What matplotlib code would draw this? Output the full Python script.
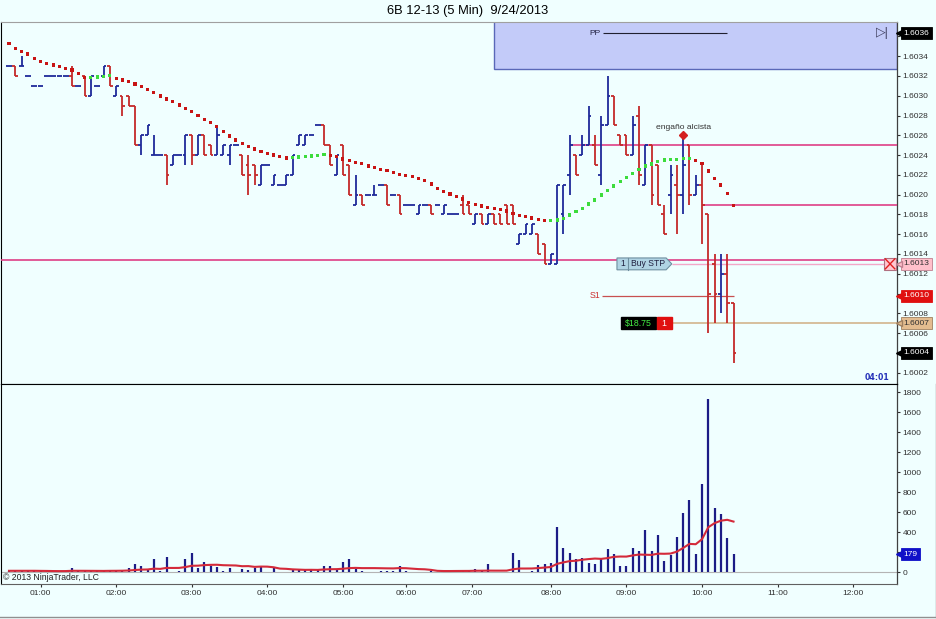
import numpy as np
import pandas as pd
import matplotlib
matplotlib.use("Agg")
import matplotlib.pyplot as plt
import matplotlib.transforms as mtransforms
from matplotlib.patches import Rectangle, Polygon
from matplotlib.lines import Line2D

plt.rcParams['font.family'] = ['Liberation Sans', 'DejaVu Sans']

title = "6B 12-13 (5 Min)  9/24/2013"

# 5 min bars 00:35 .. 10:25, one row per hour
opens = [1.6033, 1.6033, 1.6033, 1.6032, 1.6031, 1.6031, 1.6032, 1.6032, 1.6032, 1.6032, 1.6032, 1.6031,
         1.6032, 1.6030, 1.6031, 1.6032, 1.6033, 1.6030, 1.6030, 1.6030, 1.6029, 1.6025, 1.6026, 1.6024,
         1.6024, 1.6024, 1.6023, 1.6024, 1.6024, 1.6026, 1.6024, 1.6026, 1.6025, 1.6024, 1.6024, 1.6024,
         1.6025, 1.6024, 1.6023, 1.6023, 1.6021, 1.6023, 1.6021, 1.6021, 1.6021, 1.6022, 1.6025, 1.6025,
         1.6026, 1.6027, 1.6027, 1.6025, 1.6022, 1.6025, 1.6023, 1.6019, 1.6020, 1.6020, 1.6020, 1.6021,
         1.6021, 1.6020, 1.6020, 1.6019, 1.6019, 1.6018, 1.6019, 1.6019, 1.6019, 1.6018, 1.6018, 1.6018,
         1.6019, 1.6019, 1.6017, 1.6018, 1.6017, 1.6018, 1.6018, 1.6019, 1.6019, 1.6015, 1.6016, 1.6016,
         1.6016, 1.6015, 1.6013, 1.6013, 1.6018, 1.6022, 1.6024, 1.6024, 1.6025, 1.6025, 1.6022, 1.6027,
         1.6030, 1.6026, 1.6026, 1.6024, 1.6028, 1.6021, 1.6025, 1.6023, 1.6018, 1.6020, 1.6021, 1.6020,
         1.6025, 1.6020, 1.6021, 1.6018, 1.6013, 1.6010, 1.6012, 1.6009]
highs = [1.6033, 1.6033, 1.6034, 1.6032, 1.6031, 1.6031, 1.6032, 1.6032, 1.6032, 1.6032, 1.6033, 1.6031,
         1.6032, 1.6032, 1.6031, 1.6033, 1.6033, 1.6031, 1.6030, 1.6030, 1.6029, 1.6026, 1.6027, 1.6026,
         1.6024, 1.6024, 1.6024, 1.6024, 1.6026, 1.6026, 1.6026, 1.6026, 1.6025, 1.6027, 1.6025, 1.6025,
         1.6025, 1.6024, 1.6024, 1.6023, 1.6023, 1.6023, 1.6022, 1.6021, 1.6022, 1.6024, 1.6026, 1.6026,
         1.6026, 1.6027, 1.6027, 1.6025, 1.6024, 1.6025, 1.6023, 1.6022, 1.6020, 1.6020, 1.6021, 1.6021,
         1.6021, 1.6020, 1.6020, 1.6019, 1.6019, 1.6019, 1.6019, 1.6019, 1.6019, 1.6019, 1.6018, 1.6018,
         1.6020, 1.6019, 1.6018, 1.6018, 1.6018, 1.6018, 1.6018, 1.6019, 1.6019, 1.6016, 1.6017, 1.6017,
         1.6016, 1.6015, 1.6014, 1.6021, 1.6021, 1.6026, 1.6024, 1.6026, 1.6029, 1.6026, 1.6028, 1.6032,
         1.6030, 1.6026, 1.6026, 1.6028, 1.6029, 1.6025, 1.6025, 1.6023, 1.6019, 1.6023, 1.6023, 1.6026,
         1.6025, 1.6022, 1.6023, 1.6018, 1.6014, 1.6014, 1.6014, 1.6009]
lows = [1.6033, 1.6032, 1.6033, 1.6032, 1.6031, 1.6031, 1.6032, 1.6032, 1.6032, 1.6032, 1.6031, 1.6031,
        1.6030, 1.6030, 1.6031, 1.6032, 1.6031, 1.6030, 1.6028, 1.6029, 1.6025, 1.6024, 1.6026, 1.6024,
        1.6024, 1.6021, 1.6023, 1.6024, 1.6023, 1.6023, 1.6024, 1.6024, 1.6024, 1.6024, 1.6024, 1.6023,
        1.6025, 1.6022, 1.6020, 1.6021, 1.6021, 1.6023, 1.6021, 1.6021, 1.6021, 1.6022, 1.6025, 1.6025,
        1.6026, 1.6027, 1.6025, 1.6023, 1.6022, 1.6022, 1.6020, 1.6019, 1.6019, 1.6020, 1.6020, 1.6021,
        1.6019, 1.6020, 1.6018, 1.6019, 1.6019, 1.6018, 1.6019, 1.6018, 1.6019, 1.6018, 1.6018, 1.6018,
        1.6018, 1.6018, 1.6017, 1.6017, 1.6017, 1.6017, 1.6017, 1.6017, 1.6017, 1.6015, 1.6016, 1.6016,
        1.6014, 1.6013, 1.6013, 1.6013, 1.6016, 1.6020, 1.6022, 1.6024, 1.6025, 1.6023, 1.6021, 1.6027,
        1.6027, 1.6025, 1.6024, 1.6024, 1.6021, 1.6021, 1.6019, 1.6019, 1.6016, 1.6018, 1.6016, 1.6018,
        1.6019, 1.6020, 1.6015, 1.6006, 1.6007, 1.6008, 1.6007, 1.6003]
closes = [1.6033, 1.6032, 1.6033, 1.6032, 1.6031, 1.6031, 1.6032, 1.6032, 1.6032, 1.6032, 1.6031, 1.6031,
          1.6030, 1.6032, 1.6031, 1.6033, 1.6031, 1.6031, 1.6029, 1.6029, 1.6025, 1.6026, 1.6027, 1.6024,
          1.6024, 1.6022, 1.6024, 1.6024, 1.6026, 1.6024, 1.6026, 1.6024, 1.6024, 1.6026, 1.6025, 1.6025,
          1.6025, 1.6022, 1.6022, 1.6022, 1.6023, 1.6023, 1.6022, 1.6021, 1.6022, 1.6024, 1.6026, 1.6026,
          1.6026, 1.6027, 1.6025, 1.6023, 1.6024, 1.6022, 1.6020, 1.6020, 1.6019, 1.6020, 1.6020, 1.6021,
          1.6019, 1.6020, 1.6018, 1.6019, 1.6019, 1.6019, 1.6019, 1.6018, 1.6019, 1.6019, 1.6018, 1.6018,
          1.6018, 1.6018, 1.6018, 1.6017, 1.6018, 1.6017, 1.6017, 1.6017, 1.6017, 1.6016, 1.6017, 1.6017,
          1.6014, 1.6013, 1.6014, 1.6021, 1.6021, 1.6025, 1.6022, 1.6025, 1.6028, 1.6023, 1.6027, 1.6030,
          1.6027, 1.6025, 1.6024, 1.6027, 1.6022, 1.6025, 1.6020, 1.6019, 1.6016, 1.6022, 1.6020, 1.6023,
          1.6020, 1.6021, 1.6019, 1.6010, 1.6010, 1.6012, 1.6009, 1.6004]

# dotted trend average, read per bar
ma_dots = [1.603530, 1.603480, 1.603446, 1.603422, 1.603378, 1.603345, 1.603328, 1.603311, 1.603294, 1.603277, 1.603260, 1.603227,
           1.603183, 1.603186, 1.603190, 1.603196, 1.603203, 1.603176, 1.603159, 1.603142, 1.603119, 1.603092, 1.603065, 1.603031,
           1.602998, 1.602967, 1.602940, 1.602907, 1.602873, 1.602839, 1.602799, 1.602762, 1.602728, 1.602687, 1.602637, 1.602593,
           1.602553, 1.602519, 1.602485, 1.602462, 1.602438, 1.602418, 1.602401, 1.602384, 1.602371, 1.602374, 1.602381, 1.602384,
           1.602391, 1.602398, 1.602404, 1.602400, 1.602384, 1.602361, 1.602343, 1.602327, 1.602317, 1.602290, 1.602277, 1.602256,
           1.602242, 1.602222, 1.602206, 1.602192, 1.602182, 1.602165, 1.602141, 1.602108, 1.602064, 1.602030, 1.602007, 1.601979,
           1.601956, 1.601919, 1.601898, 1.601885, 1.601872, 1.601858, 1.601848, 1.601835, 1.601812, 1.601791, 1.601777, 1.601764,
           1.601751, 1.601737, 1.601741, 1.601744, 1.601761, 1.601794, 1.601828, 1.601862, 1.601906, 1.601946, 1.601997, 1.602040,
           1.602088, 1.602131, 1.602176, 1.602216, 1.602256, 1.602290, 1.602310, 1.602333, 1.602350, 1.602353, 1.602358, 1.602364,
           1.602368, 1.602343, 1.602317, 1.602239, 1.602165, 1.602098, 1.602014, 1.601888]

volume = [15, 15, 15, 15, 15, 10, 10, 5, 8, 15, 43, 15,
          12, 10, 10, 10, 27, 20, 27, 40, 80, 60, 27, 130,
          10, 150, 8, 15, 130, 190, 40, 100, 63, 53, 17, 40,
          8, 30, 23, 43, 50, 5, 43, 5, 5, 27, 27, 20,
          23, 27, 67, 67, 33, 100, 137, 37, 10, 5, 5, 12,
          10, 12, 67, 10, 5, 5, 5, 17, 5, 10, 10, 12,
          10, 15, 35, 17, 80, 5, 5, 8, 190, 127, 5, 15,
          70, 80, 90, 457, 240, 197, 130, 147, 93, 83, 147, 233,
          180, 60, 63, 240, 217, 427, 217, 373, 113, 177, 357, 597,
          723, 187, 883, 1733, 643, 580, 340, 179]

time_ticks = [5, 17, 29, 41, 53, 63, 73.5, 86, 98, 110, 122, 134]
time_labels = ['01:00', '02:00', '03:00', '04:00', '05:00', '06:00',
               '07:00', '08:00', '09:00', '10:00', '11:00', '12:00']
price_ticks = [1.6002 + 0.0002 * i for i in range(18)]
vol_ticks = list(range(0, 1801, 200))

pp_level = 1.60363
pp_zone_low = 1.60327
s1_level = 1.60098
stop_level = 1.6013
entry_level = 1.6007
last_price = 1.6004
line_full = 1.60134
line_high = 1.6025
line_mid = 1.6019
fake_high = 1.6026   # "engaño alcista" marker
last_vol = 179

BG = '#F0FFFF'
UP = '#1F2A9A'
DN = '#C42A2A'
MAG = '#DE3F86'

W, H = 937, 619
def rect(l, t, r, b):
    return [l / W, 1 - b / H, (r - l) / W, (b - t) / H]

fig = plt.figure(figsize=(9.37, 6.19), dpi=100, facecolor=BG)
ax = fig.add_axes(rect(1, 22, 897, 384), facecolor=BG)
ax2 = fig.add_axes(rect(1, 384, 897, 584), facecolor=BG, sharex=ax)

x = np.arange(len(closes))
o = np.array(opens); h = np.array(highs); l = np.array(lows); c = np.array(closes)
col = np.where(c >= o, UP, DN)

# price bars (OHLC)
ax.vlines(x, l, h, colors=col, lw=1.3, zorder=4)
ax.hlines(o, x - 0.45, x, colors=col, lw=1.3, zorder=4)
ax.hlines(c, x, x + 0.45, colors=col, lw=1.3, zorder=4)

ma = np.array(ma_dots)
rising = np.r_[False, np.diff(ma) > 0]
ax.scatter(x, ma, s=5, marker='s', c=np.where(rising, '#3CDC3C', '#C81414'),
           linewidths=0, zorder=5)

xmax = 140.95
# pivot zone
ax.add_patch(Rectangle((77, pp_zone_low), xmax - 77, 0.001, fc='#C3CBF9',
                       ec='#5A68B8', lw=1, zorder=1))
ax.hlines(pp_level, 94.3, 114, color='#202030', lw=0.8, zorder=2)
ax.text(93.9, pp_level, 'PP', ha='right', va='center', fontsize=6, color='#202040')
ax.text(138.7, pp_level, '▷|', ha='center', va='center', fontsize=9, color='#404060')

ax.axhline(line_full, color=MAG, lw=1.2, zorder=3)
ax.hlines(line_high, 89, xmax, color=MAG, lw=1.2, zorder=3)
ax.hlines(line_mid, 110, xmax, color=MAG, lw=1.2, zorder=3)
ax.hlines(stop_level, 105.2, 138.9, color='#F2A8C8', lw=1, zorder=3)
ax.hlines(s1_level, 94.2, 115, color='#C85050', lw=0.9, zorder=3)
ax.text(93.9, s1_level, 'S1', ha='right', va='center', fontsize=6.3, color='#CC3030')
ax.hlines(entry_level, 105.2, xmax, color='#D2B48C', lw=1.2, zorder=3)

ax.plot(107, fake_high, marker='D', ms=4.5, color='#D42020', zorder=7)
ax.text(107, 1.602674, 'engaño alcista', ha='center', va='center', fontsize=6.1, color='#333333')

# order tag
dh = 0.00006
ax.add_patch(Polygon([[96.5, stop_level - dh], [104.3, stop_level - dh], [105.2, stop_level],
                      [104.3, stop_level + dh], [96.5, stop_level + dh]], closed=True,
                     fc='#B0D4E4', ec='#6E8FA0', lw=0.8, zorder=8))
ax.plot([98.3, 98.3], [stop_level - dh, stop_level + dh], color='#6E8FA0', lw=0.8, zorder=9)
ax.text(97.4, stop_level, '1', ha='center', va='center', fontsize=6.2, color='#202040', zorder=9)
ax.text(98.8, stop_level, 'Buy STP', ha='left', va='center', fontsize=6.2, color='#202040', zorder=9)

# position tag
ax.add_patch(Rectangle((97.1, entry_level - dh), 5.6, 2 * dh, fc='black', ec='black', zorder=8))
ax.text(99.9, entry_level, '$18.75', ha='center', va='center', fontsize=6.3, color='#44EE44', zorder=9)
ax.add_patch(Rectangle((102.8, entry_level - dh), 2.4, 2 * dh, fc='#E01010', ec='#E01010', zorder=8))
ax.text(104.0, entry_level, '1', ha='center', va='center', fontsize=6.3, color='white', zorder=9)

# cancel box
ax.add_patch(Rectangle((138.9, stop_level - dh), 1.9, 2 * dh, fc='#FFC8D2', ec='#B07080', lw=0.8, zorder=8))
ax.plot([139.1, 140.6], [stop_level - 0.00005, stop_level + 0.00005], color='#E02020', lw=1, zorder=9)
ax.plot([139.1, 140.6], [stop_level + 0.00005, stop_level - 0.00005], color='#E02020', lw=1, zorder=9)

ax.text(137.8, 1.600156, '04:01', ha='center', va='center', fontsize=5.6,
        fontweight='bold', color='#2430B8', family='DejaVu Sans')

# volume panel
vol = np.array(volume)
ax2.axhline(0, color='#B4B4B4', lw=0.8, zorder=0)
ax2.vlines(x, 0, vol, colors='#1C1C86', lw=1.6, zorder=3)
vma = pd.Series(vol).rolling(14, min_periods=1).mean()
ax2.plot(x, vma, color='#D42A3A', lw=1.5, zorder=4)
tr2 = mtransforms.blended_transform_factory(ax2.transAxes, ax2.transData)
ax2.text(0.002, -57, '© 2013 NinjaTrader, LLC', transform=tr2, ha='left', va='center',
         fontsize=6.2, color='#202020')

ax.set_xlim(-1.27, xmax)
ax.set_ylim(1.6000855, 1.6037458)
ax2.set_ylim(-117, 1883)

# labels that sit under a price tag are hidden, as in the platform
hidden = {'1.6036', '1.6010', '1.6004'}
ax.yaxis.tick_right()
ax.set_yticks(price_ticks)
ax.set_yticklabels(['' if f'{v:.4f}' in hidden else f'{v:.4f}' for v in price_ticks])
ax.tick_params(axis='y', direction='out', length=2.5, width=0.8, labelsize=6, pad=1.5,
               colors='#303030')
ax.tick_params(axis='x', bottom=False, labelbottom=False)
ax2.yaxis.tick_right()
ax2.set_yticks(vol_ticks)
ax2.set_yticklabels(['' if v == 200 else str(v) for v in vol_ticks])
ax2.tick_params(axis='y', direction='out', length=2.5, width=0.8, labelsize=6, pad=1.5,
                colors='#303030')
ax2.set_xticks(time_ticks)
ax2.set_xticklabels(time_labels)
ax2.tick_params(axis='x', direction='out', length=2.5, width=0.8, labelsize=6, pad=2,
                colors='#303030')

for a in (ax, ax2):
    a.spines['left'].set_color('black')
    a.spines['right'].set_color('#404040')
    a.spines['right'].set_linewidth(0.9)
ax.spines['top'].set_color('#A0A0A0')
ax.spines['top'].set_linewidth(0.8)
ax.spines['bottom'].set_color('black')
ax2.spines['top'].set_color('black')
ax2.spines['bottom'].set_color('#606060')


def axis_tag(a, yv, txt, fc, tc, ec=None):
    tr = mtransforms.blended_transform_factory(a.transAxes, a.transData)
    ec = ec or fc
    a.annotate(txt, xy=(1, yv), xycoords=tr, xytext=(4.6, 0), textcoords='offset points',
               ha='left', va='center', fontsize=6, color=tc,
               bbox=dict(boxstyle='square,pad=0.3', fc=fc, ec=ec, lw=0.6),
               annotation_clip=False, zorder=20)
    a.plot([1.0 + 2.5 / 896], [yv], transform=tr, marker='<', ms=4.5, color=fc, mec=ec,
           clip_on=False, zorder=21)


axis_tag(ax, pp_level, '1.6036', 'black', 'white')
axis_tag(ax, stop_level, f'{stop_level:.4f}', '#FFC0CB', '#303030', '#C08090')
axis_tag(ax, s1_level, f'{s1_level:.4f}', '#E01010', 'white')
axis_tag(ax, entry_level, f'{entry_level:.4f}', '#E3BC8F', '#303030', '#A08060')
axis_tag(ax, last_price, f'{last_price:.4f}', 'black', 'white')
axis_tag(ax2, last_vol, str(last_vol), '#1010C8', 'white')

fig.text(467.5 / W, 1 - 11 / H, title, ha='center', va='center', fontsize=9.3, color='black')
fig.add_artist(Line2D([0, 936 / W], [2 / H, 2 / H], color='#909090', lw=1))
fig.add_artist(Line2D([936 / W, 936 / W], [2 / H, 1 - 384 / H], color='#909090', lw=1))

fig.savefig('out.png', dpi=100, facecolor=BG)
